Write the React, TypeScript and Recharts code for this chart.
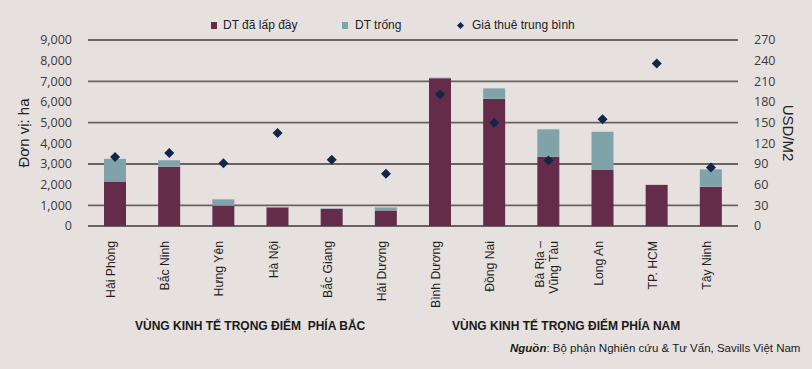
import React from "react";
import {
  Bar,
  CartesianGrid,
  ComposedChart,
  Scatter,
  XAxis,
  YAxis,
} from "recharts";

const provinces = [
  "Hải Phòng",
  "Bắc Ninh",
  "Hưng Yên",
  "Hà Nội",
  "Bắc Giang",
  "Hải Dương",
  "Bình Dương",
  "Đồng Nai",
  "Bà Rịa –\nVũng Tàu",
  "Long An",
  "TP. HCM",
  "Tây Ninh",
];
const filledArea = [2150, 2870, 980, 900, 830, 750, 7150, 6150, 3350, 2710, 1990, 1900];
const vacantArea = [1100, 310, 310, 20, 20, 150, 30, 510, 1330, 1850, 0, 840];
const avgRent = [100, 106, 91, 135, 96, 76, 191, 150, 95, 155, 236, 85];

const leftTicks = [0, 1000, 2000, 3000, 4000, 5000, 6000, 7000, 8000, 9000];
const rightTicks = [0, 30, 60, 90, 120, 150, 180, 210, 240, 270];

const data = provinces.map((name, i) => ({
  name,
  filled: filledArea[i],
  vacant: vacantArea[i],
  rent: avgRent[i],
}));

const PURPLE = "#652b4b";
const TEAL = "#80a3aa";
const NAVY = "#14254a";
const GRID = "#6a6362";
const BG = "#e6e1de";
const TICK_FONT = "'Open Sans', sans-serif";
const LABEL_FONT = "'Liberation Sans', Arial, sans-serif";

function ProvinceTick(props: any) {
  const { x, y, payload } = props;
  const lines = String(payload.value).split("\n");
  const shift = lines.length > 1 ? -4 : 0;
  return (
    <g transform={`translate(${x},${y + 7}) rotate(-90)`}>
      <text
        textAnchor="end"
        fill="#1e1e1e"
        fontSize={12.2}
        fontFamily={LABEL_FONT}
      >
        {lines.map((l, i) => (
          <tspan key={i} x={0} dy={i === 0 ? shift : 14}>
            {l}
          </tspan>
        ))}
      </text>
    </g>
  );
}

function Diamond(props: any) {
  const { cx, cy } = props;
  if (cx == null || cy == null) return null;
  const r = 5;
  return (
    <polygon
      points={`${cx},${cy - r} ${cx + r},${cy} ${cx},${cy + r} ${cx - r},${cy}`}
      fill={NAVY}
    />
  );
}

export default function App() {
  return (
    <div
      style={{
        position: "absolute",
        left: 0,
        top: 0,
        width: 812,
        height: 369,
        background: BG,
        fontFamily: LABEL_FONT,
        overflow: "hidden",
      }}
    >
      {/* legend */}
      <div
        style={{
          position: "absolute",
          top: 18,
          left: 0,
          width: 812,
          height: 16,
          fontSize: 12,
          color: "#222",
        }}
      >
        <span style={{ position: "absolute", left: 211, top: 4, width: 6, height: 7, background: PURPLE }} />
        <span style={{ position: "absolute", left: 223, top: 0 }}>DT đã lấp đầy</span>
        <span style={{ position: "absolute", left: 342, top: 4, width: 6, height: 7, background: TEAL }} />
        <span style={{ position: "absolute", left: 355, top: 0 }}>DT trống</span>
        <span
          style={{
            position: "absolute",
            left: 458,
            top: 5,
            width: 5,
            height: 5,
            background: NAVY,
            transform: "rotate(45deg)",
          }}
        />
        <span style={{ position: "absolute", left: 472, top: 0 }}>Giá thuê trung bình</span>
      </div>

      <ComposedChart
        width={812}
        height={369}
        data={data}
        margin={{ top: 40, right: 0, bottom: 0, left: 0 }}
        barCategoryGap={0}
      >
        <CartesianGrid vertical={false} stroke={GRID} strokeWidth={1.8} yAxisId="left" />
        <XAxis
          dataKey="name"
          axisLine={false}
          tickLine={false}
          interval={0}
          height={143}
          tick={<ProvinceTick />}
        />
        <YAxis
          yAxisId="left"
          domain={[0, 9000]}
          ticks={leftTicks}
          width={88}
          axisLine={false}
          tickLine={false}
          tickFormatter={(v: number) => v.toLocaleString("en-US")}
          tick={{ fill: "#3a3a3a", fontSize: 12.5, fontFamily: TICK_FONT }}
          tickMargin={10}
          label={{
            value: "Đơn vị: ha",
            angle: -90,
            position: "insideLeft",
            offset: 24,
            style: { fill: "#222", fontSize: 15, fontFamily: LABEL_FONT, textAnchor: "middle" },
          }}
        />
        <YAxis
          yAxisId="right"
          orientation="right"
          domain={[0, 270]}
          ticks={rightTicks}
          width={74}
          axisLine={false}
          tickLine={false}
          tick={{ fill: "#3a3a3a", fontSize: 12.5, fontFamily: TICK_FONT }}
          tickMargin={10}
          label={{
            value: "USD/M2",
            angle: 90,
            position: "insideRight",
            offset: 24,
            style: { fill: "#222", fontSize: 15, fontFamily: LABEL_FONT, textAnchor: "middle" },
          }}
        />
        <Bar
          yAxisId="left"
          dataKey="filled"
          stackId="a"
          fill={PURPLE}
          barSize={22}
          isAnimationActive={false}
        />
        <Bar
          yAxisId="left"
          dataKey="vacant"
          stackId="a"
          fill={TEAL}
          barSize={22}
          isAnimationActive={false}
        />
        <Scatter
          yAxisId="right"
          dataKey="rent"
          shape={<Diamond />}
          isAnimationActive={false}
        />
      </ComposedChart>

      <div
        style={{
          position: "absolute",
          top: 319,
          left: 135,
          fontSize: 12,
          fontWeight: "bold",
          color: "#1a1a1a",
          whiteSpace: "pre",
        }}
      >
        VÙNG KINH TẾ TRỌNG ĐIỂM  PHÍA BẮC
      </div>
      <div
        style={{
          position: "absolute",
          top: 319,
          left: 452,
          fontSize: 12,
          fontWeight: "bold",
          color: "#1a1a1a",
        }}
      >
        VÙNG KINH TẾ TRỌNG ĐIỂM PHÍA NAM
      </div>
      <div
        style={{
          position: "absolute",
          top: 342,
          left: 510,
          fontSize: 11.5,
          color: "#1a1a1a",
        }}
      >
        <b>
          <i>Nguồn</i>
        </b>
        : Bộ phận Nghiên cứu &amp; Tư Vấn, Savills Việt Nam
      </div>
    </div>
  );
}
